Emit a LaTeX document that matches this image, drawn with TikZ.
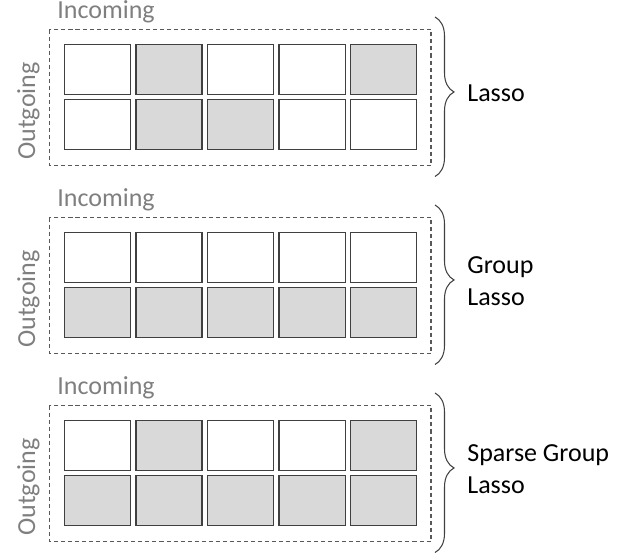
\documentclass[tikz,border=0pt]{standalone}
\usepackage{fontspec}
\setmainfont{Carlito}
\usetikzlibrary{decorations.pathreplacing}
\definecolor{cellgray}{HTML}{D9D9D9}
\definecolor{linegray}{HTML}{404040}
\definecolor{dashgray}{HTML}{595959}
\definecolor{textgray}{HTML}{7F7F7F}
\tikzset{
  cell/.style={draw=linegray, line width=0.8pt},
  frame/.style={draw=dashgray, line width=0.6pt, dash pattern=on 2.3pt off 1.7pt},
  bracket/.style={draw=linegray, line width=0.6pt, decorate,
    decoration={brace, amplitude=0.38cm, aspect=0.47}},
  axislabel/.style={text=textgray, inner sep=0pt},
  methodlabel/.style={anchor=west, align=left, inner sep=0pt}
}

\begin{document}
\begin{tikzpicture}[x=0.02cm, y=-0.02cm, font=\fontsize{14.8}{18.2}\selectfont]
\useasboundingbox (0,0) rectangle (632,553);
% one panel per penalty: top edge, fills of the two rows, name, label
\foreach \top/\rowa/\rowb/\name/\label in {
    29.5/{0,1,0,0,1}/{0,1,1,0,0}/lasso/{Lasso},
    217.5/{0,0,0,0,0}/{1,1,1,1,1}/group/{Group\\Lasso},
    405.5/{0,1,0,0,1}/{1,1,1,1,1}/sparse/{Sparse Group\\Lasso}} {
  \draw[frame] (49.5,\top) rectangle (431,\top+136);
  \foreach \f [count=\i from 0] in \rowa
    \draw[cell, fill=cellgray!\f00!white] (64.3+71.5*\i,\top+15) rectangle ++(66.4,50);
  \foreach \f [count=\i from 0] in \rowb
    \draw[cell, fill=cellgray!\f00!white] (64.3+71.5*\i,\top+70) rectangle ++(66.4,50);
  \node[axislabel, anchor=base west] (\name-in) at (57,\top-10.5) {Incoming};
  \node[axislabel, anchor=base west, rotate=90] (\name-out) at (35,\top+130.5) {Outgoing};
  \draw[bracket] (435,\top-12.5) -- (435,\top+147);
  \node[methodlabel] (\name-label) at (467,\top+64) {\label};
}
\end{tikzpicture}
\end{document}
